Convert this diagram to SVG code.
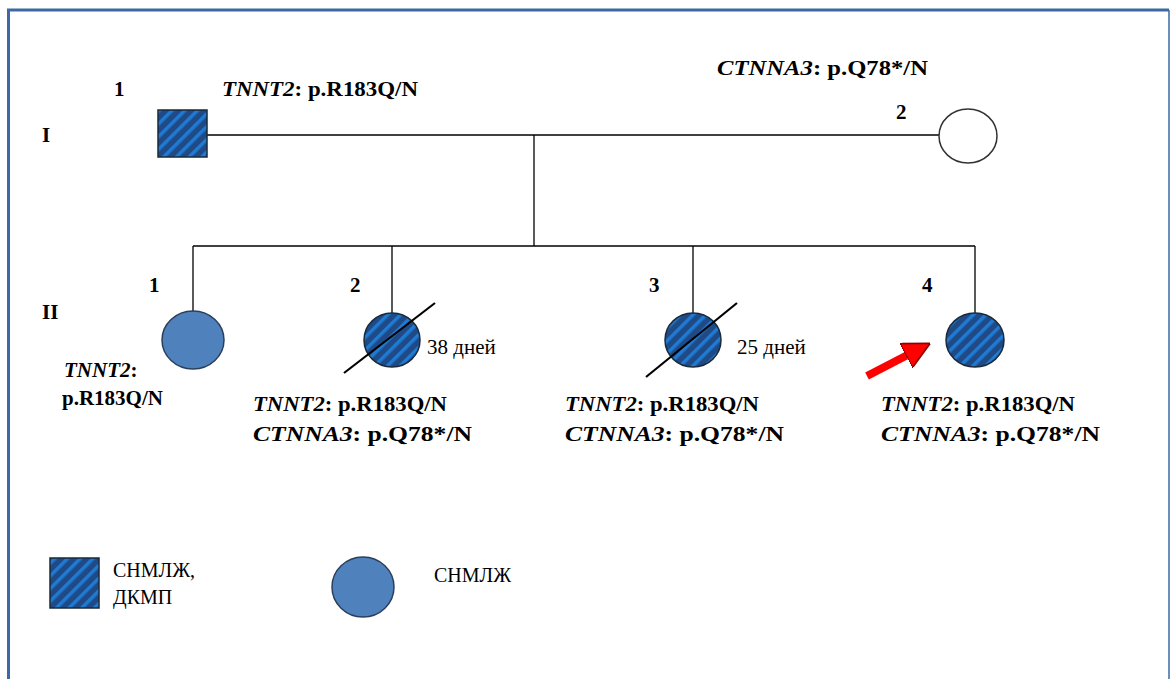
<svg xmlns="http://www.w3.org/2000/svg" width="1171" height="679" viewBox="0 0 1171 679">
  <defs>
    <!-- diagonal stripe fill for affected individuals -->
    <pattern id="hatch" patternUnits="userSpaceOnUse" width="9" height="9" patternTransform="rotate(45)">
      <rect width="9" height="9" fill="#1f4a86"/>
      <rect width="3.5" height="9" fill="#1e7ad2"/>
    </pattern>
    <marker id="redHead" viewBox="0 0 10 10" refX="7" refY="5" markerWidth="3.4" markerHeight="3.4" orient="auto">
      <path d="M0,0 L10,5 L0,10 Z" fill="#ff0000" stroke="#8b0000" stroke-width="0.6"/>
    </marker>
    <style>
      .line { stroke: #000; stroke-width: 1.3; fill: none; }
      .slash { stroke: #000; stroke-width: 2.2; }
      .txt { font-size: 21px; font-weight: bold; }
      .gen { font-style: italic; }
      .num { font-size: 21px; font-weight: bold; }
      .age { font-size: 21px; }
      .leg { font-size: 20px; }
      .aff { fill: url(#hatch); stroke: #1a2a3a; stroke-width: 1.5; }
      .mild { fill: #4f81bd; stroke: #2a3f5c; stroke-width: 1.5; }
      .un { fill: #fff; stroke: #333; stroke-width: 1.5; }
    </style>
  </defs>

  <!-- frame -->
  <rect x="0" y="0" width="1171" height="679" fill="#fff"/>
  <path d="M8.5,679 V10 H1169" fill="none" stroke="#3c68a6" stroke-width="3"/>
  <line x1="1169" y1="10" x2="1169" y2="679" stroke="#3c68a6" stroke-width="1.5"/>

  <g font-family="Liberation Serif, Times New Roman, DejaVu Serif, serif" fill="#000">
  <!-- generation labels -->
  <text class="num" x="42" y="142">I</text>
  <text class="num" x="42" y="319">II</text>

  <!-- connectors -->
  <g id="connectors">
    <line class="line" x1="207" y1="135" x2="940" y2="135"/>
    <line class="line" x1="534" y1="135" x2="534" y2="246"/>
    <line class="line" x1="193" y1="246" x2="975" y2="246"/>
    <line class="line" x1="193" y1="246" x2="193" y2="312"/>
    <line class="line" x1="392" y1="246" x2="392" y2="313"/>
    <line class="line" x1="693" y1="246" x2="693" y2="313"/>
    <line class="line" x1="975" y1="246" x2="975" y2="313"/>
  </g>

  <!-- generation I -->
  <g id="I-1">
    <rect class="aff" x="158" y="110" width="49" height="47"/>
    <text class="num" x="114" y="96">1</text>
    <text class="txt" x="222" y="96" textLength="196" lengthAdjust="spacingAndGlyphs"><tspan class="gen">TNNT2</tspan>: p.R183Q/N</text>
  </g>
  <g id="I-2">
    <ellipse class="un" cx="968" cy="136" rx="29" ry="27"/>
    <text class="num" x="896" y="119">2</text>
    <text class="txt" x="717" y="75" textLength="211" lengthAdjust="spacingAndGlyphs"><tspan class="gen">CTNNA3</tspan>: p.Q78*/N</text>
  </g>

  <!-- generation II -->
  <g id="II-1">
    <ellipse class="mild" cx="193" cy="340" rx="31" ry="29"/>
    <text class="num" x="149" y="292">1</text>
    <text class="txt" x="64" y="377"><tspan class="gen">TNNT2</tspan>:</text>
    <text class="txt" x="62" y="405">p.R183Q/N</text>
  </g>
  <g id="II-2">
    <ellipse class="aff" cx="392" cy="340" rx="28" ry="27"/>
    <line class="slash" x1="344" y1="373" x2="435" y2="303"/>
    <text class="num" x="350" y="292">2</text>
    <text class="age" x="427" y="354">38 дней</text>
    <text class="txt" x="253" y="411" textLength="194" lengthAdjust="spacingAndGlyphs"><tspan class="gen">TNNT2</tspan>: p.R183Q/N</text>
    <text class="txt" x="253" y="441" textLength="219" lengthAdjust="spacingAndGlyphs"><tspan class="gen">CTNNA3</tspan>: p.Q78*/N</text>
  </g>
  <g id="II-3">
    <ellipse class="aff" cx="693" cy="340" rx="28" ry="27"/>
    <line class="slash" x1="646" y1="377" x2="737" y2="303"/>
    <text class="num" x="649" y="292">3</text>
    <text class="age" x="737" y="354">25 дней</text>
    <text class="txt" x="565" y="411" textLength="194" lengthAdjust="spacingAndGlyphs"><tspan class="gen">TNNT2</tspan>: p.R183Q/N</text>
    <text class="txt" x="565" y="441" textLength="219" lengthAdjust="spacingAndGlyphs"><tspan class="gen">CTNNA3</tspan>: p.Q78*/N</text>
  </g>
  <g id="II-4">
    <ellipse class="aff" cx="975" cy="340" rx="29" ry="27"/>
    <text class="num" x="922" y="292">4</text>
    <text class="txt" x="881" y="411" textLength="194" lengthAdjust="spacingAndGlyphs"><tspan class="gen">TNNT2</tspan>: p.R183Q/N</text>
    <text class="txt" x="881" y="441" textLength="219" lengthAdjust="spacingAndGlyphs"><tspan class="gen">CTNNA3</tspan>: p.Q78*/N</text>
  </g>

  <!-- proband arrow -->
  <g id="proband-arrow">
    <line x1="867" y1="376" x2="923" y2="347" stroke="#ff0000" stroke-width="8" marker-end="url(#redHead)"/>
  </g>

  <!-- legend -->
  <g id="legend-affected">
    <rect class="aff" x="50" y="558" width="49" height="50"/>
    <text class="leg" x="113" y="577">СНМЛЖ,</text>
    <text class="leg" x="113" y="604">ДКМП</text>
  </g>
  <g id="legend-mild">
    <ellipse class="mild" cx="363" cy="587" rx="31" ry="30"/>
    <text class="leg" x="434" y="582">СНМЛЖ</text>
  </g>
  </g>
</svg>
